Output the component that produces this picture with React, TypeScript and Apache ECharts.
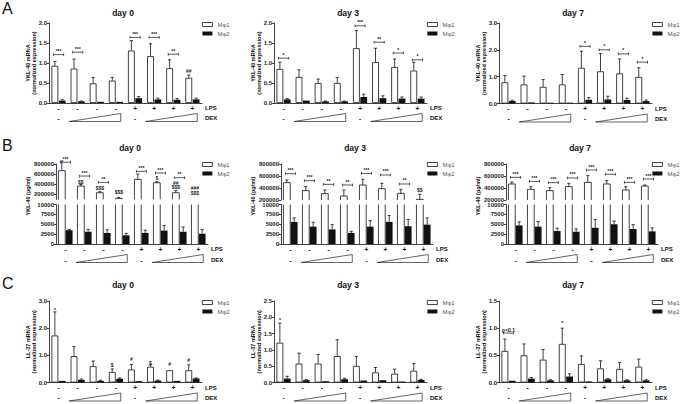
import React, { useEffect, useRef } from 'react';
import * as echarts from 'echarts';

const FONT = '"Liberation Sans", Arial, Helvetica, sans-serif';

// ---------- categories ----------
const GROUPS = ['G1', 'G2', 'G3', 'G4', 'G5', 'G6', 'G7', 'G8'];
const LPS = ['-', '-', '-', '-', '+', '+', '+', '+'];
const DEX = ['-', '', '', '', '-', '', '', ''];
const SERIES_NAMES = ['Mφ1', 'Mφ2'];

// ---------- A: YKL-40 mRNA ----------
const A_d0_m1 = [0.93, 0.86, 0.49, 0.56, 1.31, 1.17, 0.87, 0.63];
const A_d0_m1e = [1.04, 1.1, 0.64, 0.64, 1.56, 1.48, 1.08, 0.7];
const A_d0_m2 = [0.06, 0.04, 0.03, 0.03, 0.12, 0.09, 0.08, 0.09];
const A_d0_m2e = [0.08, 0.05, 0.04, 0.04, 0.16, 0.12, 0.11, 0.12];
const A_d0_brk: [number, number, string][] = [[0, 1.21, '***'], [1, 1.27, '***'], [4, 1.64, '***'], [5, 1.64, '***'], [6, 1.22, '**']];
const A_d0_txt: [number, number, string][] = [[7, 0.8, '##']];

const A_d3_m1 = [0.85, 0.65, 0.5, 0.5, 1.37, 1.02, 0.9, 0.81];
const A_d3_m1e = [1.02, 0.83, 0.6, 0.64, 1.81, 1.37, 1.1, 1.02];
const A_d3_m2 = [0.09, 0.06, 0.04, 0.04, 0.15, 0.12, 0.11, 0.11];
const A_d3_m2e = [0.11, 0.07, 0.05, 0.05, 0.22, 0.18, 0.15, 0.15];
const A_d3_brk: [number, number, string][] = [[0, 1.12, '*'], [4, 1.93, '***'], [5, 1.52, '**'], [6, 1.25, '*'], [7, 1.08, '*']];
const A_d3_txt: [number, number, string][] = [];

const A_d7_m1 = [0.79, 0.71, 0.62, 0.71, 1.33, 1.2, 1.12, 0.99];
const A_d7_m1e = [1.04, 1.02, 0.89, 1.08, 1.95, 1.86, 1.66, 1.33];
const A_d7_m2 = [0.09, 0.04, 0.03, 0.03, 0.14, 0.15, 0.13, 0.09];
const A_d7_m2e = [0.12, 0.05, 0.04, 0.04, 0.22, 0.27, 0.2, 0.13];
const A_d7_brk: [number, number, string][] = [[4, 2.13, '*'], [5, 2.0, '*'], [6, 1.85, '*'], [7, 1.54, '*']];
const A_d7_txt: [number, number, string][] = [];

// ---------- B: YKL-40 protein (pg/ml) ----------
const B_UP_TICKS = [200000, 400000, 600000, 800000];
const B_d0_m1 = [668000, 364000, 232000, 120000, 496000, 430000, 232000, 60000];
const B_d0_m1e = [860000, 397000, 252000, 140000, 602000, 450000, 272000, 105000];
const B_d0_m2 = [3500, 3100, 2800, 2200, 2800, 3400, 3100, 2600];
const B_d0_m2e = [3700, 3700, 3600, 2700, 3500, 4700, 4300, 3700];
const B_d0_brk: [number, number, string][] = [[0, 835000, '***'], [1, 562000, '***'], [2, 437000, '**'], [4, 655000, '***'], [5, 622000, '***'], [6, 529000, '**']];
const B_d0_txt: [number, number, string][] = [[1, 450000, '$$'], [2, 331000, '$$$'], [3, 239000, '$$$'], [5, 529000, '$'], [6, 338000, '$$$'], [6, 430000, '##'], [7, 219000, '$$$'], [7, 331000, '###']];

const B_d3_m1 = [489000, 356000, 306000, 267000, 450000, 389000, 311000, 210000];
const B_d3_m1e = [533000, 422000, 367000, 367000, 544000, 478000, 378000, 295000];
const B_d3_m2 = [5600, 4400, 3700, 2800, 4400, 5600, 4500, 4900];
const B_d3_m2e = [6600, 5500, 4900, 3200, 5900, 7200, 6200, 6600];
const B_d3_brk: [number, number, string][] = [[0, 639000, '***'], [1, 522000, '***'], [2, 461000, '**'], [3, 450000, '**'], [4, 644000, '***'], [5, 617000, '***'], [6, 467000, '**']];
const B_d3_txt: [number, number, string][] = [[7, 367000, '$$']];

const B_d7_m1 = [467000, 378000, 356000, 422000, 494000, 467000, 367000, 433000];
const B_d7_m1e = [500000, 422000, 406000, 478000, 606000, 522000, 422000, 450000];
const B_d7_m2 = [4700, 4400, 3300, 3100, 4100, 5000, 3800, 3200];
const B_d7_m2e = [5600, 5700, 4000, 3800, 6200, 5800, 4900, 4100];
const B_d7_brk: [number, number, string][] = [[0, 578000, '***'], [1, 511000, '***'], [2, 489000, '***'], [3, 567000, '***'], [4, 700000, '***'], [5, 628000, '***'], [6, 494000, '***'], [7, 550000, '***']];
const B_d7_txt: [number, number, string][] = [];

// ---------- C: LL-37 mRNA ----------
const C_d0_m1 = [1.73, 0.97, 0.6, 0.39, 0.48, 0.58, 0.45, 0.45];
const C_d0_m1e = [2.6, 1.32, 0.79, 0.5, 0.66, 0.65, 0.46, 0.65];
const C_d0_m2 = [0.06, 0.1, 0.06, 0.14, 0.05, 0.07, 0.06, 0.15];
const C_d0_m2e = [0.07, 0.13, 0.08, 0.17, 0.06, 0.09, 0.07, 0.17];
const C_d0_brk: [number, number, string][] = [];
const C_d0_txt: [number, number, string][] = [[0, 2.68, '*'], [3, 0.64, '$'], [4, 0.87, '#'], [5, 0.73, '$'], [6, 0.68, '#'], [7, 0.84, '#']];

const C_d3_m1 = [1.22, 0.58, 0.58, 0.81, 0.51, 0.31, 0.27, 0.36];
const C_d3_m1e = [1.82, 0.9, 0.86, 1.31, 0.8, 0.46, 0.41, 0.58];
const C_d3_m2 = [0.12, 0.07, 0.04, 0.1, 0.06, 0.07, 0.03, 0.08];
const C_d3_m2e = [0.19, 0.09, 0.05, 0.13, 0.07, 0.08, 0.04, 0.1];
const C_d3_brk: [number, number, string][] = [];
const C_d3_txt: [number, number, string][] = [[0, 1.93, '*']];

const C_d7_m1 = [0.58, 0.5, 0.42, 0.71, 0.34, 0.26, 0.25, 0.29];
const C_d7_m1e = [0.8, 0.71, 0.61, 1.0, 0.49, 0.4, 0.37, 0.43];
const C_d7_m2 = [0.03, 0.07, 0.04, 0.11, 0.02, 0.06, 0.04, 0.04];
const C_d7_m2e = [0.03, 0.09, 0.05, 0.16, 0.02, 0.07, 0.05, 0.05];
const C_d7_brk: [number, number, string][] = [[0, 0.91, 'p<0.1']];
const C_d7_txt: [number, number, string][] = [[3, 1.1, '*']];

// ---------- layout ----------
const COLX = [0, 225, 450];
const BW = 6.8;
const GAP = 0.08;
const OFF = (BW * (1 + GAP)) / 2;
const INK = '#111';
const AX_LINE = { color: INK, width: 0.8 };

type Ann = [number, number, string];

function buildOption() {
  const grid: any[] = [];
  const xAxis: any[] = [];
  const yAxis: any[] = [];
  const series: any[] = [];
  const legend: any[] = [];
  const graphic: any[] = [];

  const tickLabel = { fontSize: 6, fontWeight: 'bold', color: '#222', fontFamily: FONT, margin: 2 };

  const txt = (text: string, x: number, y: number, font: string, align = 'center', vAlign = 'middle', rotation = 0, fill = '#111') => ({
    type: 'text',
    x,
    y,
    rotation,
    silent: true,
    style: { text, font, fill, align, verticalAlign: vAlign, textAlign: align, textVerticalAlign: vAlign },
  });

  const xCat = (gi: number, show: boolean, lineH: number) =>
    show
      ? {
          type: 'category', gridIndex: gi, data: GROUPS,
          axisLine: { show: true, lineStyle: AX_LINE }, axisTick: { show: false }, splitLine: { show: false },
          axisLabel: {
            interval: 0, margin: 0, lineHeight: lineH, fontSize: 6.5, fontWeight: 'bold', color: INK, fontFamily: FONT,
            formatter: (_v: any, i: number) => `${LPS[i]}\n${DEX[i]}`,
          },
        }
      : { type: 'category', gridIndex: gi, data: GROUPS, show: false };

  const errSeries = (gi: number, sets: { m: number[]; e: number[]; side: number }[]) => {
    const data: number[][] = [];
    sets.forEach((s) => s.m.forEach((v, i) => data.push([i, v, s.e[i], s.side])));
    return {
      type: 'custom', name: 'err', xAxisIndex: gi, yAxisIndex: gi, silent: true, z: 5, data,
      renderItem: (params: any, api: any) => {
        const i = api.value(0), v = api.value(1), e = api.value(2), side = api.value(3);
        const p0 = api.coord([i, v]);
        const p1 = api.coord([i, e]);
        const cs = params.coordSys;
        const bottom = cs.y + cs.height;
        const x = p0[0] + (side === 0 ? -OFF : OFF);
        let y0 = p0[1];
        if (y0 > bottom) y0 = bottom;
        const y1 = p1[1];
        if (y0 - y1 < 0.4) return { type: 'group', children: [] };
        const st = { stroke: INK, lineWidth: 0.8, fill: 'none' };
        return {
          type: 'group',
          children: [
            { type: 'line', shape: { x1: x, y1: y0, x2: x, y2: y1 }, style: st },
            { type: 'line', shape: { x1: x - 1.6, y1: y1, x2: x + 1.6, y2: y1 }, style: st },
          ],
        };
      },
    };
  };

  const annSeries = (gi: number, brk: Ann[], marks: Ann[]) => {
    const items = [...brk.map((b) => ({ k: 'b', a: b })), ...marks.map((m) => ({ k: 'm', a: m }))];
    return {
      type: 'custom', name: 'sig', xAxisIndex: gi, yAxisIndex: gi, silent: true, z: 6,
      data: items.map((it) => [it.a[0], it.a[1]]),
      renderItem: (params: any, api: any) => {
        const it = items[params.dataIndex];
        const p = api.coord([api.value(0), api.value(1)]);
        const font = `bold 5px ${FONT}`;
        if (it.k === 'b') {
          const x1 = p[0] - OFF - 1.4, x2 = p[0] + OFF + 1.4, y = p[1];
          const st = { stroke: INK, lineWidth: 0.7, fill: 'none' };
          return {
            type: 'group',
            children: [
              { type: 'line', shape: { x1, y1: y, x2, y2: y }, style: st },
              { type: 'line', shape: { x1, y1: y - 1.3, x2: x1, y2: y + 1.3 }, style: st },
              { type: 'line', shape: { x1: x2, y1: y - 1.3, x2, y2: y + 1.3 }, style: st },
              { type: 'text', style: { text: it.a[2], x: p[0], y: y - 1, font, fill: '#222', align: 'center', verticalAlign: 'bottom', textAlign: 'center', textVerticalAlign: 'bottom' } },
            ],
          };
        }
        return {
          type: 'group',
          children: [
            { type: 'text', style: { text: it.a[2], x: p[0] - OFF, y: p[1], font, fill: '#222', align: 'center', verticalAlign: 'middle', textAlign: 'center', textVerticalAlign: 'middle' } },
          ],
        };
      },
    };
  };

  const outlineSeries = (gi: number, m: number[], mode: 'upper' | 'lower') => ({
    type: 'custom', name: 'outline', xAxisIndex: gi, yAxisIndex: gi, silent: true, z: 4,
    data: m.map((v, i) => [i, v]),
    renderItem: (params: any, api: any) => {
      const cs = params.coordSys;
      const bottom = cs.y + cs.height, top = cs.y;
      const p = api.coord([api.value(0), api.value(1)]);
      const x = p[0] - OFF, hw = BW / 2;
      const st = { stroke: INK, lineWidth: 0.8, fill: 'none' };
      if (mode === 'upper') {
        if (p[1] >= bottom - 0.2) return { type: 'group', children: [] };
        return {
          type: 'polyline',
          shape: { points: [[x - hw, bottom], [x - hw, p[1]], [x + hw, p[1]], [x + hw, bottom]] },
          style: st,
        };
      }
      return {
        type: 'group',
        children: [
          { type: 'line', shape: { x1: x - hw, y1: bottom, x2: x - hw, y2: top }, style: st },
          { type: 'line', shape: { x1: x + hw, y1: bottom, x2: x + hw, y2: top }, style: st },
        ],
      };
    },
  });

  const addLegend = (left: number, top: number) =>
    legend.push({
      left, top, orient: 'vertical', icon: 'rect', itemWidth: 10, itemHeight: 4, itemGap: 3, padding: 0,
      selectedMode: false,
      textStyle: { fontSize: 6, color: '#555', fontFamily: FONT },
      data: [
        { name: SERIES_NAMES[0], itemStyle: { color: '#fff', borderColor: INK, borderWidth: 0.8 } },
        { name: SERIES_NAMES[1], itemStyle: { color: INK, borderWidth: 0 } },
      ],
    });

  const addDecor = (L: number, W: number, axisY: number, lineH: number) => {
    const step = W / 8;
    const c = (i: number) => L + step * (i + 0.5);
    const top = axisY + 10.5, bot = axisY + 18.5;
    [[1, 3], [5, 7]].forEach(([a, b]) => {
      const xl = c(a) - 0.45 * step, xr = c(b) + 0.25 * step;
      graphic.push({
        type: 'polygon', silent: true,
        shape: { points: [[xl, bot], [xr, bot], [xr, top]] },
        style: { fill: '#fff', stroke: '#222', lineWidth: 0.7 },
      });
    });
    const f = `bold 6px ${FONT}`;
    graphic.push(txt('LPS', L + W + 3, axisY + 5, f, 'left'));
    graphic.push(txt('DEX', L + W + 3, axisY + 5 + lineH, f, 'left'));
  };

  // ----- simple panels (A and C) -----
  const simple = (
    col: number, rowTop: number, height: number, titleY: number, legendTop: number, title: string, yName: string,
    max: number, interval: number, m1: number[], m1e: number[], m2: number[], m2e: number[], brk: Ann[], marks: Ann[],
  ) => {
    const x0 = COLX[col];
    const L = x0 + 49, W = 153;
    const gi = grid.length;
    grid.push({ left: L, top: rowTop, width: W, height });
    xAxis.push(xCat(gi, true, 10));
    yAxis.push({
      type: 'value', gridIndex: gi, min: 0, max, interval,
      axisLine: { show: true, lineStyle: AX_LINE }, axisTick: { show: true, length: 2, lineStyle: AX_LINE },
      splitLine: { show: false }, axisLabel: { ...tickLabel, formatter: (v: number) => v.toFixed(1) },
    });
    series.push({ type: 'bar', name: SERIES_NAMES[0], xAxisIndex: gi, yAxisIndex: gi, data: m1, barWidth: BW, barGap: `${GAP * 100}%`, itemStyle: { color: '#fff', borderColor: INK, borderWidth: 0.8 } });
    series.push({ type: 'bar', name: SERIES_NAMES[1], xAxisIndex: gi, yAxisIndex: gi, data: m2, barWidth: BW, barGap: `${GAP * 100}%`, itemStyle: { color: INK } });
    series.push(errSeries(gi, [{ m: m1, e: m1e, side: 0 }, { m: m2, e: m2e, side: 1 }]));
    series.push(annSeries(gi, brk, marks));
    addLegend(x0 + 202, legendTop);
    addDecor(L, W, rowTop + height, 10);
    graphic.push(txt(title, x0 + 123, titleY, `bold 8.5px ${FONT}`));
    graphic.push(txt(yName, x0 + 31, rowTop + height / 2, `bold 5.5px ${FONT}`, 'center', 'middle', Math.PI / 2));
  };

  // ----- broken-axis panels (B) -----
  const broken = (
    col: number, upMin: number, upHeight: number, title: string,
    m1: number[], m1e: number[], m2: number[], m2e: number[], brk: Ann[], marks: Ann[],
  ) => {
    const x0 = COLX[col];
    const L = x0 + 56, W = 152;
    const upTop = 164, loTop = 204.5, loH = 39.5;
    // upper segment
    const gu = grid.length;
    grid.push({ left: L, top: upTop, width: W, height: upHeight });
    xAxis.push(xCat(gu, false, 11));
    yAxis.push({
      type: 'value', gridIndex: gu, min: upMin, max: 800000,
      axisLine: { show: true, lineStyle: AX_LINE },
      axisTick: { show: true, length: 2, lineStyle: AX_LINE, customValues: B_UP_TICKS },
      splitLine: { show: false },
      axisLabel: { ...tickLabel, customValues: B_UP_TICKS, formatter: (v: number) => String(v) },
    });
    series.push({ type: 'bar', name: SERIES_NAMES[0], xAxisIndex: gu, yAxisIndex: gu, data: m1, barWidth: BW, barGap: `${GAP * 100}%`, itemStyle: { color: '#fff', borderWidth: 0 } });
    series.push({ type: 'bar', name: SERIES_NAMES[1], xAxisIndex: gu, yAxisIndex: gu, data: m2, barWidth: BW, barGap: `${GAP * 100}%`, itemStyle: { color: INK } });
    series.push(outlineSeries(gu, m1, 'upper'));
    series.push(errSeries(gu, [{ m: m1, e: m1e, side: 0 }]));
    series.push(annSeries(gu, brk, marks));
    // lower segment
    const gl = grid.length;
    grid.push({ left: L, top: loTop, width: W, height: loH });
    xAxis.push(xCat(gl, true, 11));
    yAxis.push({
      type: 'value', gridIndex: gl, min: 0, max: 10000, interval: 2500,
      axisLine: { show: true, lineStyle: AX_LINE }, axisTick: { show: true, length: 2, lineStyle: AX_LINE },
      splitLine: { show: false }, axisLabel: { ...tickLabel, formatter: (v: number) => String(v) },
    });
    series.push({ type: 'bar', name: SERIES_NAMES[0], xAxisIndex: gl, yAxisIndex: gl, data: m1, barWidth: BW, barGap: `${GAP * 100}%`, itemStyle: { color: '#fff', borderWidth: 0 } });
    series.push({ type: 'bar', name: SERIES_NAMES[1], xAxisIndex: gl, yAxisIndex: gl, data: m2, barWidth: BW, barGap: `${GAP * 100}%`, itemStyle: { color: INK } });
    series.push(outlineSeries(gl, m1, 'lower'));
    series.push(errSeries(gl, [{ m: m2, e: m2e, side: 1 }]));
    addLegend(x0 + 202, 161.5);
    addDecor(L, W, loTop + loH, 11);
    graphic.push(txt(title, x0 + 130, 148, `bold 8.5px ${FONT}`));
    graphic.push(txt('YKL-40 (pg/ml)', x0 + 28, 196, `bold 5.5px ${FONT}`, 'center', 'middle', Math.PI / 2));
  };

  const yA = 'YKL-40 mRNA\n(normalized expression)';
  const yC = 'LL-37 mRNA\n(normalized expression)';
  simple(0, 23, 80, 13, 21.5, 'day 0', yA, 2, 0.5, A_d0_m1, A_d0_m1e, A_d0_m2, A_d0_m2e, A_d0_brk, A_d0_txt);
  simple(1, 23, 80, 13, 21.5, 'day 3', yA, 2, 0.5, A_d3_m1, A_d3_m1e, A_d3_m2, A_d3_m2e, A_d3_brk, A_d3_txt);
  simple(2, 23, 80.5, 13, 21.5, 'day 7', yA, 3, 1, A_d7_m1, A_d7_m1e, A_d7_m2, A_d7_m2e, A_d7_brk, A_d7_txt);

  broken(0, 100000, 35.4, 'day 0', B_d0_m1, B_d0_m1e, B_d0_m2, B_d0_m2e, B_d0_brk, B_d0_txt);
  broken(1, 200000, 36, 'day 3', B_d3_m1, B_d3_m1e, B_d3_m2, B_d3_m2e, B_d3_brk, B_d3_txt);
  broken(2, 200000, 36, 'day 7', B_d7_m1, B_d7_m1e, B_d7_m2, B_d7_m2e, B_d7_brk, B_d7_txt);

  simple(0, 301, 81.5, 285, 299.5, 'day 0', yC, 3, 1, C_d0_m1, C_d0_m1e, C_d0_m2, C_d0_m2e, C_d0_brk, C_d0_txt);
  simple(1, 301, 81.5, 285, 299.5, 'day 3', yC, 2.5, 0.5, C_d3_m1, C_d3_m1e, C_d3_m2, C_d3_m2e, C_d3_brk, C_d3_txt);
  simple(2, 301, 81.5, 285, 299.5, 'day 7', yC, 1.5, 0.5, C_d7_m1, C_d7_m1e, C_d7_m2, C_d7_m2e, C_d7_brk, C_d7_txt);

  const letter = `16px ${FONT}`;
  graphic.push(txt('A', 2, 0.5, letter, 'left', 'top'));
  graphic.push(txt('B', 2, 137, letter, 'left', 'top'));
  graphic.push(txt('C', 2, 275.5, letter, 'left', 'top'));

  return {
    animation: false,
    backgroundColor: '#fff',
    textStyle: { fontFamily: FONT },
    grid,
    xAxis,
    yAxis,
    legend,
    series,
    graphic,
  };
}

export default function App() {
  const ref = useRef<HTMLDivElement>(null);
  useEffect(() => {
    if (!ref.current) return;
    const chart = echarts.init(ref.current, null, { renderer: 'svg' });
    chart.setOption(buildOption() as any);
    return () => chart.dispose();
  }, []);
  return <div ref={ref} style={{ position: 'absolute', left: 0, top: 0, width: 685, height: 404, background: '#fff' }} />;
}
